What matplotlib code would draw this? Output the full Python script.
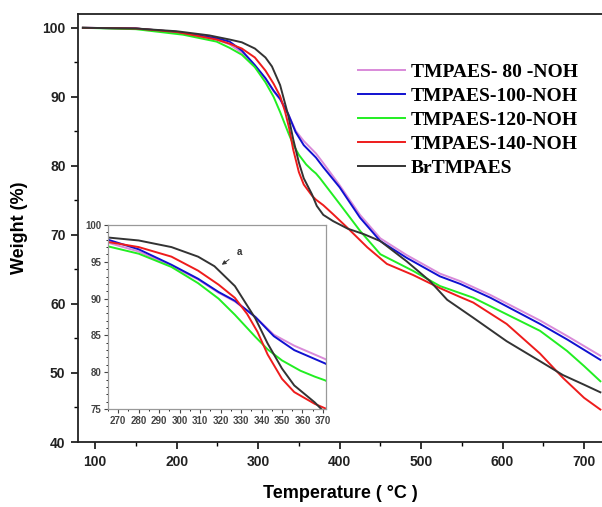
import matplotlib
matplotlib.use("Agg")
import matplotlib.pyplot as plt
from matplotlib.ticker import MultipleLocator

# TGA curves (temperature in C, weight in %)
t_80 = [85, 150, 200, 249, 265, 280, 296, 309, 319, 327, 337, 346, 356, 366, 371, 380, 400, 425, 450, 482, 523, 548, 585, 646, 680, 720]
w_80 = [100, 99.9, 99.3, 98.3, 97.6, 96.4, 94.4, 92.6, 90.8, 89.6, 87.5, 85.1, 83.6, 82.4, 81.8, 80.4, 77.2, 72.9, 69.5, 67.1, 64.4, 63.3, 61.3, 57.6, 55.3, 52.5]

t_100 = [85, 150, 200, 249, 265, 280, 296, 309, 319, 327, 337, 346, 356, 366, 371, 380, 400, 425, 450, 482, 523, 548, 585, 646, 680, 720]
w_100 = [100, 99.9, 99.4, 98.5, 98.0, 96.7, 94.6, 92.7, 90.9, 89.7, 87.5, 84.9, 83.0, 81.8, 81.2, 79.8, 76.9, 72.5, 69.1, 66.7, 64.0, 62.9, 60.9, 57.1, 54.8, 51.9]

t_120 = [85, 150, 208, 249, 265, 280, 296, 309, 319, 327, 337, 343, 350, 359, 366, 371, 376, 400, 425, 450, 490, 523, 564, 605, 646, 679, 700, 720]
w_120 = [100, 99.8, 99.0, 98.0, 97.1, 96.1, 94.3, 92.1, 90.0, 87.8, 84.8, 83.1, 81.6, 80.2, 79.4, 78.9, 78.2, 74.5, 70.6, 67.2, 64.8, 62.6, 60.9, 58.5, 56.1, 53.2, 51.0, 48.8]

t_140 = [85, 150, 200, 249, 265, 280, 296, 309, 319, 327, 333, 338, 343, 350, 356, 366, 371, 380, 392, 409, 434, 458, 490, 523, 548, 564, 605, 646, 674, 700, 720]
w_140 = [100, 99.9, 99.4, 98.3, 97.7, 97.0, 95.7, 93.8, 91.9, 90.1, 87.9, 85.5, 82.4, 79.1, 77.3, 75.7, 75.1, 74.3, 73.0, 71.1, 68.2, 65.8, 64.2, 62.3, 61.0, 60.2, 57.1, 52.8, 49.3, 46.4, 44.7]

t_br = [85, 150, 200, 240, 265, 280, 296, 309, 317, 327, 337, 343, 350, 356, 366, 372, 380, 392, 410, 430, 450, 482, 511, 532, 564, 605, 646, 674, 700, 720]
w_br = [100, 99.9, 99.5, 98.9, 98.3, 97.9, 97.0, 95.7, 94.4, 91.7, 87.3, 83.9, 80.5, 78.2, 75.9, 74.2, 72.9, 72.0, 70.9, 70.1, 69.1, 66.2, 63.3, 60.6, 58.0, 54.6, 51.7, 49.7, 48.3, 47.2]

labels = ["TMPAES- 80 -NOH", "TMPAES-100-NOH", "TMPAES-120-NOH", "TMPAES-140-NOH", "BrTMPAES"]
colors = ["#d98ad9", "#1010d0", "#22ee22", "#ee1c1c", "#333333"]
series = [(t_80, w_80), (t_100, w_100), (t_120, w_120), (t_140, w_140), (t_br, w_br)]

plt.rcParams['font.family'] = ['Liberation Sans', 'DejaVu Sans']

fig = plt.figure(figsize=(6.02, 5.07), dpi=100)
ax = fig.add_axes([0.1296, 0.1282, 0.8704, 0.8442])

for (t, w), lab, c in zip(series, labels, colors):
    ax.plot(t, w, color=c, lw=1.4, label=lab)

ax.set_xlim(79, 722)
ax.set_ylim(40, 102)
ax.xaxis.set_major_locator(MultipleLocator(100))
ax.xaxis.set_minor_locator(MultipleLocator(50))
ax.yaxis.set_major_locator(MultipleLocator(10))
ax.yaxis.set_minor_locator(MultipleLocator(5))
ax.tick_params(which='major', direction='out', length=5, width=1.3, pad=4,
               labelsize=10, colors='#222222')
ax.tick_params(which='minor', direction='out', length=3, width=1.0)
for lab in ax.get_xticklabels() + ax.get_yticklabels():
    lab.set_fontweight('bold')
for s in ['left', 'bottom', 'top']:
    ax.spines[s].set_linewidth(1.3)
    ax.spines[s].set_color('#222222')
ax.spines['right'].set_visible(False)

ax.set_xlabel("Temperature ( °C )", fontsize=13, fontweight='bold', labelpad=12)
ax.set_ylabel("Weight (%)", fontsize=13, fontweight='bold', labelpad=10)

leg = ax.legend(loc='upper left', bbox_to_anchor=(0.515, 0.907), frameon=False,
                borderpad=0, handlelength=2.45, handletextpad=0.3, labelspacing=0.33,
                prop={'family': 'Liberation Serif', 'weight': 'bold', 'size': 14})

# inset zoom on the main weight-loss step
ins = fig.add_axes([0.1794, 0.1933, 0.3621, 0.3629])
for (t, w), c in zip(series, colors):
    ins.plot(t, w, color=c, lw=1.4)
ins.set_xlim(265, 371.5)
ins.set_ylim(75, 100)
ins.xaxis.set_major_locator(MultipleLocator(10))
ins.xaxis.set_minor_locator(MultipleLocator(5))
ins.yaxis.set_major_locator(MultipleLocator(5))
ins.yaxis.set_minor_locator(MultipleLocator(1))
ins.tick_params(which='major', direction='out', length=3, width=0.8, pad=2,
                labelsize=7, colors='#444444')
ins.tick_params(which='minor', direction='out', length=1.5, width=0.6)
for lab in ins.get_xticklabels() + ins.get_yticklabels():
    lab.set_fontweight('bold')
for s in ins.spines.values():
    s.set_color('#999999')
    s.set_linewidth(0.9)
ins.annotate("a", xy=(320.6, 94.6), xytext=(329, 96.3), fontsize=7, fontweight='bold',
             color='#333333', ha='center', va='center',
             arrowprops=dict(arrowstyle='-|>', color='#333333', lw=0.7,
                             mutation_scale=6, shrinkA=4, shrinkB=0))

fig.savefig("out.png", dpi=100)
